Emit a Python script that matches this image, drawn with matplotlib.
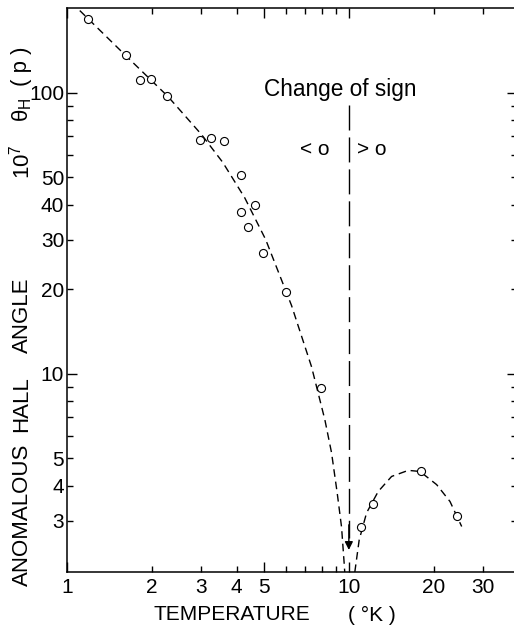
import matplotlib
matplotlib.use("Agg")
import matplotlib.pyplot as plt
from matplotlib.ticker import FixedLocator, FuncFormatter

plt.rcParams['font.family'] = ['Liberation Sans', 'DejaVu Sans']
plt.rcParams['mathtext.fontset'] = 'custom'
plt.rcParams['mathtext.rm'] = 'Liberation Sans'
plt.rcParams['mathtext.it'] = 'Liberation Sans'
plt.rcParams['mathtext.bf'] = 'Liberation Sans'

# measured points
temperature_K = [1.19, 1.62, 1.82, 1.98, 2.27, 2.97, 3.23, 3.61, 4.14, 4.63, 4.14,
                 4.40, 4.96, 5.97, 7.95, 11.06, 12.14, 17.98, 24.2]
hall_angle = [183, 136, 111, 112, 97, 68, 69, 67.5, 51, 40, 37.6,
              33.4, 27.0, 19.6, 8.9, 2.85, 3.44, 4.5, 3.12]

# guide curve below the sign change
low_T = [1.11, 1.61, 2.28, 3.0, 3.57, 4.27, 5.07, 6.26, 7.37, 8.22, 8.68, 9.09, 9.42, 9.62, 9.71]
low_angle = [196, 136, 97, 71, 56.5, 42.3, 30.0, 17.5, 10.6, 6.86, 5.24, 3.77, 2.85, 2.13, 1.85]

# guide curve above the sign change
high_T = [10.5, 10.88, 11.56, 12.71, 14.18, 16.25, 17.88, 20.49, 22.85, 25.14]
high_angle = [1.97, 2.56, 3.20, 3.81, 4.31, 4.53, 4.49, 4.03, 3.51, 2.86]

sign_change_T = 10

x_long_ticks = [1, 5, 10]
x_short_ticks = [2, 3, 4, 6, 7, 8, 9, 20, 30]
x_labels = {1: "1", 2: "2", 3: "3", 4: "4", 5: "5", 10: "10", 20: "20", 30: "30"}
y_long_ticks = [10, 100]
y_short_ticks = [3, 4, 5, 6, 7, 8, 9, 20, 30, 40, 50, 60, 70, 80, 90]
y_labels = {3: "3", 4: "4", 5: "5", 10: "10", 20: "20", 30: "30", 40: "40", 50: "50", 100: "100"}

W, H = 514, 633
fig = plt.figure(figsize=(W / 100, H / 100), dpi=100)
ax = fig.add_axes([67 / W, 1 - 572 / H, (517 - 67) / W, (572 - 7.5) / H])
ax.set_xscale('log')
ax.set_yscale('log')
ax.set_xlim(1, 39.5)
ax.set_ylim(1.97, 201)

ax.plot(low_T, low_angle, color='k', lw=1.0, dashes=(5.5, 3.5))
ax.plot(high_T, high_angle, color='k', lw=1.0, dashes=(5.5, 3.5))
ax.plot(temperature_K, hall_angle, linestyle='none', marker='o', ms=5.8,
        mfc='white', mec='k', mew=0.8)

# sign change marker
ax.plot([sign_change_T, sign_change_T], [90.6, 2.6], color='k', lw=1.0, dashes=(18, 5))
ax.annotate('', xy=(sign_change_T, 2.36), xytext=(sign_change_T, 2.9),
            arrowprops=dict(arrowstyle='-|>', color='k', lw=1.0,
                            mutation_scale=12, shrinkA=0, shrinkB=0))
ax.text(9.29, 102.5, "Change of sign", ha='center', va='center', fontsize=16.3)
ax.text(7.57, 62.7, "< o", ha='center', va='center', fontsize=15)
ax.text(12.07, 62.7, "> o", ha='center', va='center', fontsize=15)

fmt_x = FuncFormatter(lambda v, p: x_labels.get(int(round(v)), ""))
fmt_y = FuncFormatter(lambda v, p: y_labels.get(int(round(v)), ""))
ax.xaxis.set_major_locator(FixedLocator(x_long_ticks))
ax.xaxis.set_minor_locator(FixedLocator(x_short_ticks))
ax.xaxis.set_major_formatter(fmt_x)
ax.xaxis.set_minor_formatter(fmt_x)
ax.yaxis.set_major_locator(FixedLocator(y_long_ticks))
ax.yaxis.set_minor_locator(FixedLocator(y_short_ticks))
ax.yaxis.set_major_formatter(fmt_y)
ax.yaxis.set_minor_formatter(fmt_y)

ax.tick_params(which='both', direction='in', top=True, right=True,
               labelsize=15, width=1.0, colors='k')
ax.tick_params(which='major', length=7.5)
ax.tick_params(which='minor', length=4.5)
ax.tick_params(axis='x', which='both', pad=4)
ax.tick_params(axis='y', which='both', pad=2)
for s in ax.spines.values():
    s.set_linewidth(1.1)

# axis titles
fig.text(232 / W, 1 - 615 / H, "TEMPERATURE", ha='center', va='center', fontsize=15)
fig.text(372 / W, 1 - 615 / H, "( °K )", ha='center', va='center', fontsize=15)

y_title_parts = [("ANOMALOUS", 515), ("HALL", 404), ("ANGLE", 315),
                 (r"10$^7$", 162), (r"$\theta_H$", 110), ("( p )", 66)]
for txt, ypix in y_title_parts:
    fig.text(22 / W, 1 - ypix / H, txt, rotation=90, ha='center', va='center',
             fontsize=16)

fig.savefig("out.png", dpi=100)
